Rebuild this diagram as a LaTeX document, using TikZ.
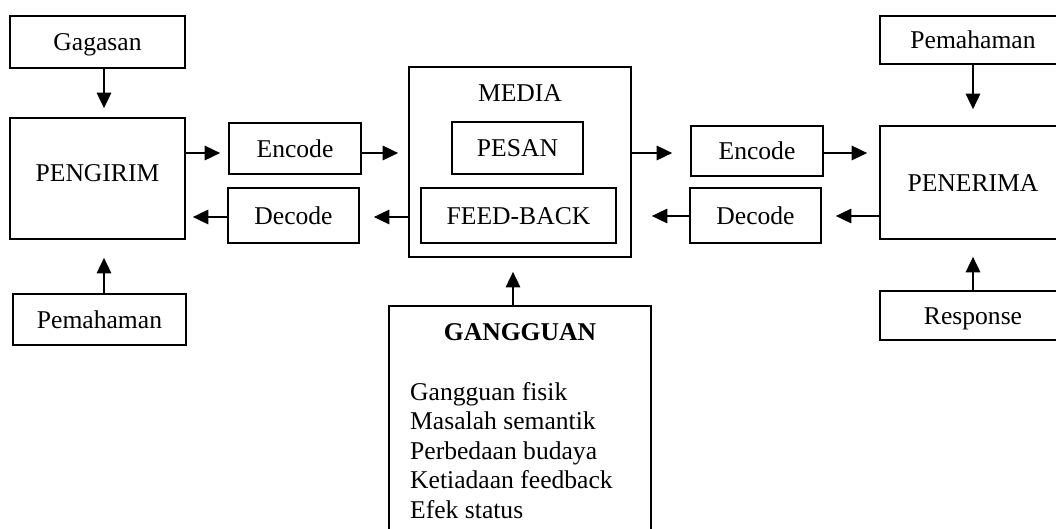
\documentclass[tikz,border=0pt]{standalone}
\usepackage{fontspec}
\setmainfont{Liberation Serif}
\usetikzlibrary{arrows.meta}
\begin{document}
\begin{tikzpicture}[x=1pt,y=-1pt,
  lbl/.style={inner sep=0pt,font=\fontsize{25.6}{29.5}\selectfont,text height=17pt,text depth=0pt},
  box/.style={lbl,draw,line width=1.7pt},
  arr/.style={-{Triangle[length=15.5pt,width=14.5pt]},line width=1.7pt}]
\useasboundingbox (0,0) rectangle (1056,528);
\clip (0,0) rectangle (1056,528);
\fill[white] (0,0) rectangle (1056,528);
% left side
\node[box,minimum width=175pt,minimum height=52pt] (gag) at (97.5,42) {Gagasan};
\node[box,minimum width=175pt,minimum height=121pt,text depth=11pt] (peng) at (97.5,178.5) {PENGIRIM};
\node[box,minimum width=173pt,minimum height=51pt] (pem1) at (99.5,319.5) {Pemahaman};
\node[box,minimum width=132pt,minimum height=51pt] (enc1) at (295,148.5) {Encode};
\node[box,minimum width=131pt,minimum height=55pt] (dec1) at (293.5,215.5) {Decode};
% media
\node[box,minimum width=222pt,minimum height=190pt] (media) at (520,162) {};
\node[lbl] (medialbl) at (520,93) {MEDIA};
\node[box,minimum width=131pt,minimum height=52pt] (pesan) at (517.5,148) {PESAN};
\node[box,minimum width=195pt,minimum height=55pt] (fb) at (518.5,215.5) {FEED-BACK};
% right side
\node[box,minimum width=132pt,minimum height=50pt] (enc2) at (757,151) {Encode};
\node[box,minimum width=131pt,minimum height=55pt] (dec2) at (755.5,215.5) {Decode};
\node[box,minimum width=186pt,minimum height=48pt] (pem2) at (973,40) {Pemahaman};
\node[box,minimum width=186pt,minimum height=113pt] (pener) at (973,182.5) {PENERIMA};
\node[box,minimum width=186pt,minimum height=49pt] (resp) at (973,315.5) {Response};
% gangguan
\node[box,minimum width=262pt,minimum height=240pt,anchor=north] (gang) at (520,305) {};
\node[lbl,font=\fontsize{25.6}{29.5}\selectfont\bfseries] (gtitle) at (520,332) {GANGGUAN};
\node[inner sep=0pt,font=\fontsize{25.6}{29.5}\selectfont,anchor=base west] (g1) at (410,400) {Gangguan fisik};
\node[inner sep=0pt,font=\fontsize{25.6}{29.5}\selectfont,anchor=base west] (g2) at (410,429.5) {Masalah semantik};
\node[inner sep=0pt,font=\fontsize{25.6}{29.5}\selectfont,anchor=base west] (g3) at (410,459) {Perbedaan budaya};
\node[inner sep=0pt,font=\fontsize{25.6}{29.5}\selectfont,anchor=base west] (g4) at (410,488.5) {Ketiadaan feedback};
\node[inner sep=0pt,font=\fontsize{25.6}{29.5}\selectfont,anchor=base west] (g5) at (410,518) {Efek status};
% arrows
\draw[arr] ([xshift=6.5pt]gag.south) -- ([xshift=6.5pt,yshift=9pt]peng.north);
\draw[arr] ([xshift=4.5pt]pem1.north) -- ([xshift=6.5pt,yshift=-18pt]peng.south);
\draw[arr,shorten >=8pt] (peng.east |- 0,153) -- (enc1.west |- 0,153);
\draw[arr,shorten >=10pt] (enc1.east |- 0,153) -- (media.west |- 0,153);
\draw[arr,shorten >=14pt] (media.west |- 0,217) -- (dec1.east |- 0,217);
\draw[arr,shorten >=7pt] (dec1.west |- 0,217) -- (peng.east |- 0,217);
\draw[arr,shorten >=18pt] (media.east |- 0,153) -- (enc2.west |- 0,153);
\draw[arr,shorten >=12pt] (enc2.east |- 0,153) -- (pener.west |- 0,153);
\draw[arr,shorten >=14pt] (pener.west |- 0,216) -- (dec2.east |- 0,216);
\draw[arr,shorten >=20pt] (dec2.west |- 0,216) -- (media.east |- 0,216);
\draw[arr,shorten >=16pt] (pem2.south) -- (pener.north);
\draw[arr,shorten >=17pt] (resp.north) -- (pener.south);
\draw[arr,shorten >=14pt] (gang.north -| 513,0) -- (media.south -| 513,0);
\end{tikzpicture}
\end{document}
